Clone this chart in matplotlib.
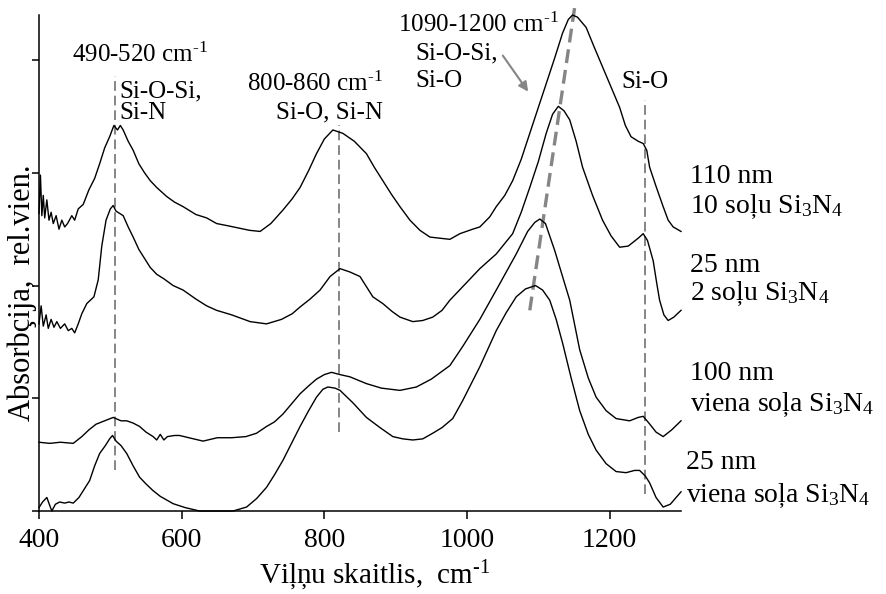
import numpy as np
import matplotlib
matplotlib.use("Agg")
import matplotlib.pyplot as plt

plt.rcParams['font.family'] = ['Liberation Serif', 'DejaVu Serif']
plt.rcParams['mathtext.fontset'] = 'custom'
plt.rcParams['mathtext.rm'] = 'Liberation Serif'
plt.rcParams['mathtext.it'] = 'Liberation Serif:italic'
plt.rcParams['mathtext.bf'] = 'Liberation Serif:bold'
plt.rcParams['lines.scale_dashes'] = False

# 110 nm, 10 slanu Si3N4
wn_110 = [400, 402, 404, 406, 408, 411, 414, 417, 420, 424, 428, 432, 436, 440, 446, 450, 455,
          462, 470, 478, 485, 492, 499, 505, 510, 514, 518, 525, 532, 540, 548, 556, 565, 579,
          590, 602, 620, 635, 649, 665, 680, 695, 710, 725, 742, 755, 766, 778, 789, 800, 812,
          826, 842, 859, 870, 882, 894, 906, 920, 934, 948, 962, 976, 990, 1008, 1018, 1032,
          1041, 1053, 1064, 1076, 1088, 1100, 1111, 1123, 1134, 1142, 1148, 1155, 1167, 1178,
          1190, 1202, 1214, 1222, 1230, 1240, 1247, 1252, 1256, 1265, 1275, 1282, 1289, 1300]
ab_110 = [2.64, 2.98, 2.62, 2.80, 2.60, 2.76, 2.58, 2.65, 2.55, 2.62, 2.50, 2.58, 2.52, 2.55,
          2.62, 2.58, 2.68, 2.72, 2.85, 2.95, 3.08, 3.22, 3.32, 3.42, 3.38, 3.42, 3.38, 3.28,
          3.20, 3.08, 3.00, 2.93, 2.87, 2.79, 2.74, 2.70, 2.63, 2.60, 2.55, 2.53, 2.51, 2.49,
          2.48, 2.55, 2.67, 2.77, 2.87, 3.02, 3.17, 3.30, 3.38, 3.35, 3.28, 3.17, 3.05, 2.93,
          2.81, 2.70, 2.58, 2.49, 2.43, 2.42, 2.41, 2.46, 2.50, 2.52, 2.61, 2.70, 2.80, 2.93,
          3.12, 3.35, 3.58, 3.79, 4.02, 4.24, 4.36, 4.40, 4.38, 4.29, 4.12, 3.94, 3.76, 3.58,
          3.42, 3.32, 3.28, 3.26, 3.20, 3.05, 2.88, 2.70, 2.58, 2.52, 2.48]

# 25 nm, 2 slanu Si3N4
wn_25b = [400, 403, 406, 410, 413, 417, 421, 425, 430, 436, 441, 446, 450, 455, 460, 467, 477,
          483, 488, 494, 500, 504, 508, 513, 518, 525, 532, 540, 548, 556, 565, 575, 588, 602,
          620, 635, 649, 670, 696, 719, 740, 755, 766, 780, 794, 808, 822, 836, 850, 860, 868,
          882, 895, 906, 924, 938, 952, 965, 976, 994, 1018, 1041, 1064, 1076, 1088, 1100,
          1111, 1120, 1128, 1136, 1144, 1153, 1162, 1176, 1190, 1202, 1214, 1226, 1240, 1247,
          1253, 1261, 1266, 1270, 1276, 1282, 1290, 1300]
ab_25b = [1.66, 1.82, 1.64, 1.74, 1.62, 1.70, 1.63, 1.68, 1.62, 1.66, 1.60, 1.62, 1.58, 1.66,
          1.75, 1.84, 1.90, 2.05, 2.35, 2.58, 2.68, 2.71, 2.66, 2.64, 2.62, 2.52, 2.43, 2.32,
          2.24, 2.16, 2.10, 2.06, 2.00, 1.96, 1.88, 1.82, 1.78, 1.74, 1.68, 1.66, 1.70, 1.75,
          1.81, 1.88, 1.96, 2.08, 2.15, 2.12, 2.08, 1.98, 1.90, 1.84, 1.77, 1.72, 1.68, 1.69,
          1.72, 1.78, 1.87, 1.99, 2.15, 2.28, 2.46, 2.65, 2.87, 3.10, 3.35, 3.52, 3.59, 3.55,
          3.47, 3.28, 3.05, 2.80, 2.58, 2.44, 2.34, 2.35, 2.42, 2.46, 2.40, 2.22, 2.02, 1.87,
          1.74, 1.69, 1.72, 1.78]

# 100 nm, viena slana Si3N4
wn_100 = [400, 415, 430, 448, 460, 470, 480, 492, 504, 515, 523, 532, 541, 550, 560, 565, 570,
          575, 580, 590, 597, 610, 630, 650, 670, 690, 705, 719, 730, 742, 754, 766, 778, 789,
          800, 810, 822, 836, 859, 880, 906, 929, 950, 976, 994, 1018, 1041, 1055, 1069, 1085,
          1095, 1102, 1110, 1123, 1133, 1144, 1158, 1170, 1181, 1195, 1209, 1228, 1240, 1247,
          1255, 1265, 1275, 1287, 1300]
ab_100 = [0.61, 0.60, 0.61, 0.60, 0.66, 0.72, 0.77, 0.80, 0.83, 0.80, 0.80, 0.78, 0.75, 0.70,
          0.66, 0.63, 0.68, 0.63, 0.66, 0.67, 0.67, 0.65, 0.62, 0.65, 0.65, 0.66, 0.69, 0.75,
          0.79, 0.86, 0.95, 1.04, 1.11, 1.17, 1.21, 1.23, 1.21, 1.19, 1.13, 1.09, 1.07, 1.10,
          1.17, 1.29, 1.46, 1.70, 1.96, 2.12, 2.28, 2.48, 2.56, 2.59, 2.55, 2.31, 2.10, 1.87,
          1.43, 1.18, 1.01, 0.89, 0.82, 0.80, 0.83, 0.84, 0.78, 0.70, 0.66, 0.72, 0.80]

# 25 nm, viena slana Si3N4
wn_25a = [400, 405, 411, 415, 418, 423, 429, 436, 442, 448, 456, 463, 471, 478, 485, 493, 499,
          503, 508, 515, 523, 532, 541, 550, 560, 570, 588, 605, 625, 650, 672, 691, 705, 719,
          730, 742, 754, 766, 778, 789, 798, 805, 815, 822, 840, 859, 878, 896, 910, 924, 938,
          952, 965, 980, 994, 1018, 1041, 1055, 1069, 1082, 1096, 1106, 1116, 1125, 1134, 1146,
          1158, 1170, 1181, 1195, 1209, 1223, 1235, 1242, 1250, 1256, 1265, 1275, 1285, 1300]
ab_25a = [0.03, 0.08, 0.12, 0.05, 0.00, 0.06, 0.08, 0.07, 0.08, 0.07, 0.12, 0.19, 0.27, 0.40,
          0.51, 0.58, 0.64, 0.67, 0.62, 0.58, 0.51, 0.40, 0.30, 0.24, 0.18, 0.13, 0.065, 0.03,
          0.0, 0.0, 0.0, 0.035, 0.11, 0.21, 0.32, 0.45, 0.60, 0.75, 0.89, 1.01, 1.08, 1.10,
          1.09, 1.07, 0.96, 0.83, 0.74, 0.66, 0.64, 0.63, 0.64, 0.69, 0.74, 0.82, 0.98, 1.28,
          1.60, 1.76, 1.90, 1.97, 2.00, 1.96, 1.87, 1.70, 1.49, 1.18, 0.89, 0.68, 0.54, 0.42,
          0.35, 0.34, 0.36, 0.36, 0.31, 0.25, 0.12, 0.035, 0.06, 0.17]

# band positions (vertical dashed lines) and shifting band guide
band_x = [506, 820, 1250]
band_y0 = [0.36, 0.70, 0.15]
band_y1 = [3.86, 3.42, 3.65]
shift_x = [1088, 1151]
shift_y = [1.78, 4.47]

inv_cm = r"cm$^{\text{-}1}$"
side_labels = [("110 nm", 2.906), (r"10 so" + "ļ" + r"u Si$_3$N$_4$", 2.639),
               ("25 nm", 2.121), (r"2 so" + "ļ" + r"u Si$_3$N$_4$", 1.870),
               ("100 nm", 1.160), (r"viena so" + "ļ" + r"a Si$_3$N$_4$", 0.887),
               ("25 nm", 0.376), (r"viena so" + "ļ" + r"a Si$_3$N$_4$", 0.080)]
side_x = [1312, 1312, 1312, 1312, 1312, 1312, 1307, 1307]

fig = plt.figure(figsize=(8.86, 5.94), dpi=100)
ax = fig.add_axes([39 / 886, 83 / 594, 642 / 886, 496 / 594])

gray = '#858585'
for bx, y0, y1 in zip(band_x, band_y0, band_y1):
    ax.plot([bx, bx], [y0, y1], color=gray, lw=1.4, ls=(0, (7, 3.5)), zorder=1)
ax.plot(shift_x, shift_y, color=gray, lw=2.4, ls=(0, (10, 5)), zorder=1, clip_on=False)

for wn, ab in [(wn_110, ab_110), (wn_25b, ab_25b), (wn_100, ab_100), (wn_25a, ab_25a)]:
    ax.plot(wn, ab, color='black', lw=1.0, clip_on=False, zorder=3)

ax.set_xlim(400, 1300)
ax.set_ylim(0, 4.4)
ax.set_xticks([400, 600, 800, 1000, 1200])
ax.set_yticks([0, 1, 2, 3, 4])
ax.set_yticklabels([])
ax.tick_params(axis='x', direction='out', length=6, width=1.1, labelsize=20, pad=6)
ax.tick_params(axis='y', direction='out', length=5, width=1.1)
for s in ['top', 'right']:
    ax.spines[s].set_visible(False)
for s in ['left', 'bottom']:
    ax.spines[s].set_linewidth(1.1)

ax.set_xlabel("Viļņu skaitlis,  " + inv_cm, fontsize=21, va='baseline')
ax.xaxis.set_label_coords(0.523, -0.147)
ax.set_ylabel("Absorbçija,  rel.vien.", fontsize=22, va='center')
ax.yaxis.set_label_coords(-0.026, 0.44)

fs = 18
ax.text(541, 3.98, "490-520 " + inv_cm, fontsize=fs, ha='center', va='baseline')
ax.text(513, 3.67, "Si-O-Si,", fontsize=fs, ha='left', va='baseline')
ax.text(513, 3.48, "Si-N", fontsize=fs, ha='left', va='baseline')
ax.text(882, 3.73, "800-860 " + inv_cm, fontsize=fs, ha='right', va='baseline')
ax.text(882, 3.48, "Si-O, Si-N", fontsize=fs, ha='right', va='baseline')
ax.text(903, 4.25, "1090-1200 " + inv_cm, fontsize=fs, ha='left', va='baseline')
ax.text(927, 4.01, "Si-O-Si,", fontsize=fs, ha='left', va='baseline')
ax.text(927, 3.76, "Si-O", fontsize=fs, ha='left', va='baseline')
ax.text(1250, 3.75, "Si-O", fontsize=fs, ha='center', va='baseline')
ax.annotate("", xy=(1088, 3.70), xytext=(1048, 4.06),
            arrowprops=dict(arrowstyle='-|>', color=gray, lw=1.5, mutation_scale=14))

for (txt, yb), xs in zip(side_labels, side_x):
    ax.text(xs, yb, txt, fontsize=20, ha='left', va='baseline', clip_on=False)

fig.savefig("out.png", dpi=100)
